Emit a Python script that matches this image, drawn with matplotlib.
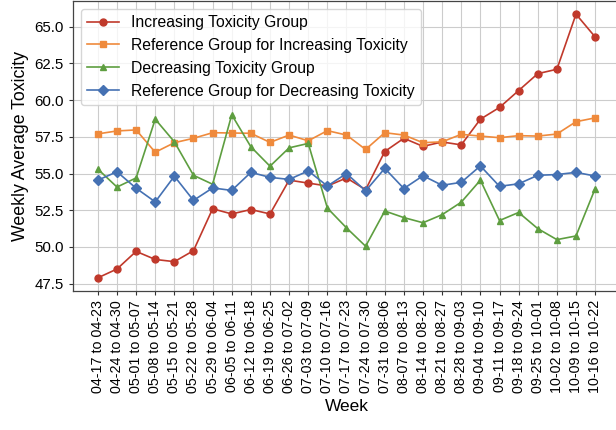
import matplotlib
matplotlib.use('Agg')
import matplotlib.pyplot as plt

plt.rcParams['font.family'] = ['Liberation Sans', 'DejaVu Sans']

weeks = ['04-17 to 04-23', '04-24 to 04-30', '05-01 to 05-07', '05-08 to 05-14',
         '05-15 to 05-21', '05-22 to 05-28', '05-29 to 06-04', '06-05 to 06-11',
         '06-12 to 06-18', '06-19 to 06-25', '06-26 to 07-02', '07-03 to 07-09',
         '07-10 to 07-16', '07-17 to 07-23', '07-24 to 07-30', '07-31 to 08-06',
         '08-07 to 08-13', '08-14 to 08-20', '08-21 to 08-27', '08-28 to 09-03',
         '09-04 to 09-10', '09-11 to 09-17', '09-18 to 09-24', '09-25 to 10-01',
         '10-02 to 10-08', '10-09 to 10-15', '10-16 to 10-22']

increasing = [47.9, 48.5, 49.7, 49.15, 49.0, 49.75, 52.6, 52.25, 52.55, 52.25,
              54.55, 54.35, 54.15, 54.7, 53.9, 56.5, 57.4, 56.85, 57.15, 56.95,
              58.7, 59.5, 60.65, 61.8, 62.1, 65.85, 64.3]
ref_increasing = [57.7, 57.9, 57.97, 56.45, 57.1, 57.4, 57.78, 57.76, 57.74, 57.12,
                  57.62, 57.23, 57.92, 57.62, 56.64, 57.78, 57.62, 57.1, 57.16, 57.67,
                  57.55, 57.44, 57.58, 57.55, 57.69, 58.53, 58.79]
decreasing = [55.3, 54.08, 54.7, 58.7, 57.16, 54.88, 54.27, 59.0, 56.82, 55.5,
              56.75, 57.05, 52.65, 51.3, 50.05, 52.45, 52.0, 51.65, 52.2, 53.05,
              54.55, 51.8, 52.35, 51.25, 50.5, 50.75, 53.97]
ref_decreasing = [54.55, 55.12, 54.0, 53.07, 54.82, 53.17, 54.02, 53.85, 55.08, 54.74,
                  54.6, 55.18, 54.15, 55.0, 53.82, 55.35, 53.98, 54.85, 54.2, 54.4,
                  55.52, 54.13, 54.3, 54.88, 54.93, 55.08, 54.83]

series = [
    ('Increasing Toxicity Group', increasing, '#c0392b', 'o', 5),
    ('Reference Group for Increasing Toxicity', ref_increasing, '#ef8a3c', 's', 5),
    ('Decreasing Toxicity Group', decreasing, '#5e9e40', '^', 5),
    ('Reference Group for Decreasing Toxicity', ref_decreasing, '#4571b3', 'D', 5),
]

fig = plt.figure(figsize=(6.16, 4.30), dpi=100)
ax = fig.add_axes([73 / 616, 1 - 291 / 430, 547 / 616, 290 / 430])

xs = list(range(len(weeks)))
for name, vals, color, marker, ms in series:
    ax.plot(xs, vals, color=color, marker=marker, markersize=ms, linewidth=1.2,
            label=name)

ax.set_xticks(xs)
ax.set_xticklabels(weeks, rotation=90, fontsize=10.3)
ax.set_yticks([47.5, 50.0, 52.5, 55.0, 57.5, 60.0, 62.5, 65.0])
ax.tick_params(axis='y', labelsize=10.8)
ax.tick_params(direction='out', length=3, width=0.8, colors='#333333',
               labelcolor='black')
ax.grid(True, color='#cccccc', linewidth=0.8)
ax.set_axisbelow(True)
for s in ax.spines.values():
    s.set_color('#444444')
    s.set_linewidth(0.9)

ax.set_xlabel('Week', fontsize=12.5)
ax.set_ylabel('Weekly Average Toxicity', fontsize=12.8)
ax.legend(loc='upper left', fontsize=11.3, framealpha=0.8, edgecolor='#cccccc',
          handlelength=2.0)

fig.savefig('out.png', dpi=100)
